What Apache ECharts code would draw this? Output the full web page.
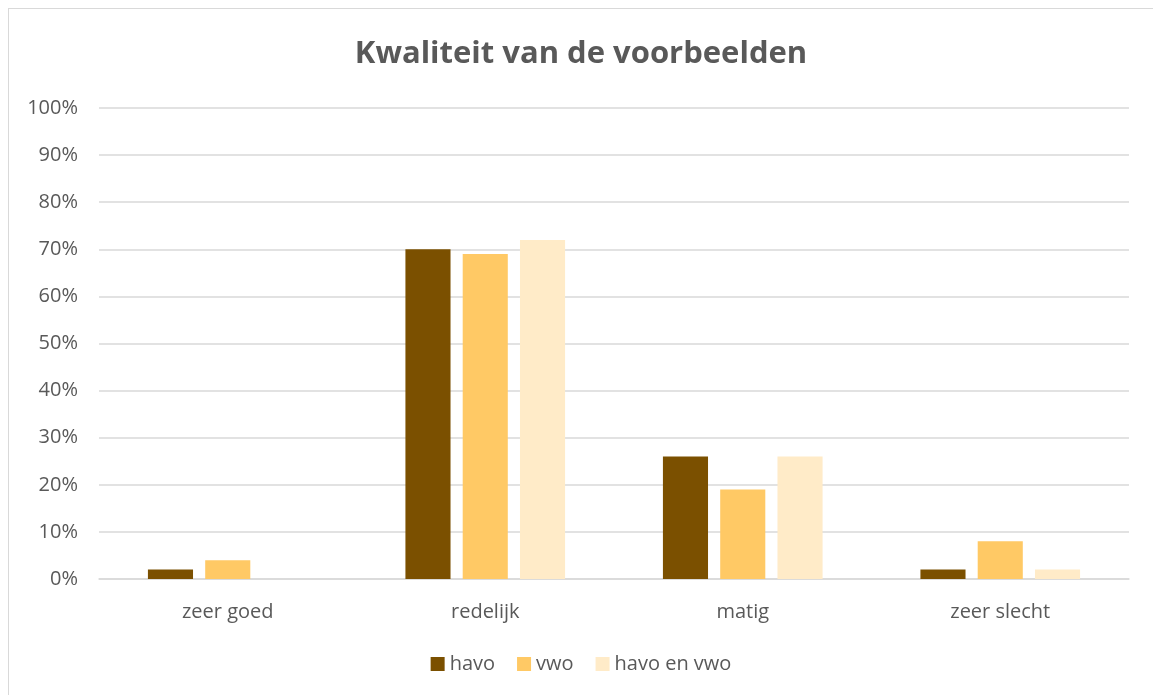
<!DOCTYPE html>
<html>
<head>
<meta charset="utf-8">
<script src="https://cdn.jsdelivr.net/npm/echarts@6/dist/echarts.min.js"></script>
<style>
	html, body { margin: 0; padding: 0; background: #fff; }
	#chart { position: absolute; left: 8px; top: 8px; width: 1145px; height: 687px; box-sizing: border-box; border: 1px solid #d9d9d9; border-right: none; border-bottom: none; }
</style>
</head>
<body>
<div id="chart"></div>
<script>
var categories = ['zeer goed', 'redelijk', 'matig', 'zeer slecht'];
var havo = [2, 70, 26, 2];
var vwo = [4, 69, 19, 8];
var havoEnVwo = [0, 72, 26, 2];
var seriesNames = ['havo', 'vwo', 'havo en vwo'];

function loadChart(){
	var chart = echarts.init(document.getElementById('chart'));
	var font = '"Open Sans", "Liberation Sans", sans-serif';
	var option = {
		animation: false,
		color: ['#7B5000', '#FFC965', '#FFEBC8'],
		title: {
			text: 'Kwaliteit van de voorbeelden',
			left: 'center',
			top: 25,
			textStyle: { fontFamily: font, fontSize: 31, fontWeight: 'bold', color: '#595959' }
		},
		legend: {
			bottom: 16,
			left: 'center',
			itemWidth: 14,
			itemHeight: 14,
			itemGap: 22,
			icon: 'rect',
			textStyle: { fontFamily: font, fontSize: 20, color: '#595959' },
			data: seriesNames
		},
		grid: { left: 90, right: 24, top: 99, bottom: 116 },
		xAxis: {
			type: 'category',
			data: categories,
			axisLine: { lineStyle: { color: '#d9d9d9', width: 1.5 } },
			axisTick: { show: false },
			axisLabel: { fontFamily: font, fontSize: 20, color: '#595959', margin: 23 }
		},
		yAxis: {
			type: 'value',
			min: 0,
			max: 100,
			interval: 10,
			axisLine: { show: false },
			axisTick: { show: false },
			splitLine: { lineStyle: { color: '#d9d9d9', width: 1.5 } },
			axisLabel: { fontFamily: font, fontSize: 20, color: '#595959', margin: 21, formatter: '{value}%' }
		},
		series: [
			{ name: seriesNames[0], type: 'bar', data: havo, barGap: '27%', barCategoryGap: '38%' },
			{ name: seriesNames[1], type: 'bar', data: vwo, barGap: '27%', barCategoryGap: '38%' },
			{ name: seriesNames[2], type: 'bar', data: havoEnVwo, barGap: '27%', barCategoryGap: '38%' }
		]
	};
	chart.setOption(option);
}
loadChart();
</script>
</body>
</html>
